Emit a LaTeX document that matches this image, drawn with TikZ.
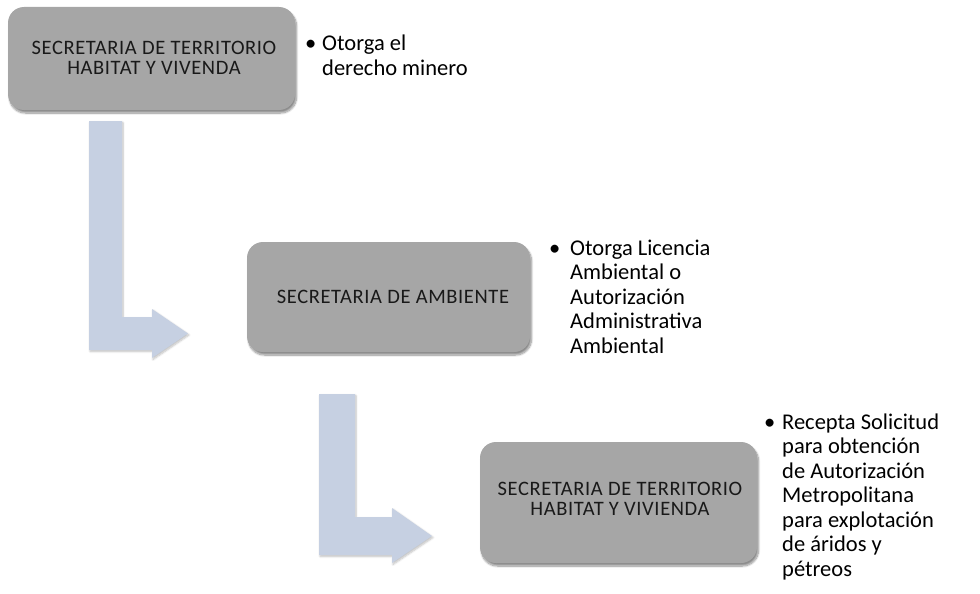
\documentclass[tikz,border=0pt]{standalone}
\usepackage{fontspec}
\setmainfont{Carlito}
\newfontfamily\boxfont[LetterSpace=3]{Carlito}
\usetikzlibrary{shadows.blur}
\definecolor{boxgray}{HTML}{A6A6A6}
\definecolor{arrowblue}{HTML}{C6D0E2}
\tikzset{
  orgbox/.style={draw=none, fill=boxgray, rounded corners=16pt,
    blur shadow={shadow blur steps=10, shadow xshift=1.5pt, shadow yshift=-3pt, shadow opacity=45}},
  boxtext/.style={inner sep=0pt, align=center, font=\boxfont\fontsize{20.5}{20}\selectfont, text=black!90},
  bullettext/.style={inner sep=0pt, anchor=base west, font=\fontsize{22.5}{24.5}\selectfont},
  bulletdot/.style={inner sep=0pt, anchor=base west, font=\fontsize{22.5}{24.5}\selectfont},
  bigarrow/.style={fill=arrowblue, draw=none,
    blur shadow={shadow blur steps=6, shadow xshift=1pt, shadow yshift=-1.5pt, shadow opacity=25}}
}
\begin{document}
\begin{tikzpicture}[x=1pt,y=-1pt]
\useasboundingbox (0,0) rectangle (980,594);

% arrows
\fill[bigarrow] (89,121) -- (122,121) -- (122,317) -- (152,317) -- (152,309) -- (188,333.5) -- (152,358) -- (152,350) -- (89,350) -- cycle;
\fill[bigarrow] (319,394) -- (355,394) -- (355,517) -- (392,517) -- (392,508) -- (432,536) -- (392,563) -- (392,555) -- (319,555) -- cycle;

% boxes
\path[orgbox] (8,7) rectangle (295,110);
\node[boxtext] (t1) at (154,58) {SECRETARIA DE TERRITORIO\\HABITAT Y VIVENDA};

\path[orgbox] (247,242) rectangle (530,352);
\node[boxtext] (t2) at (393,297) {SECRETARIA DE AMBIENTE};

\path[orgbox] (480,442) rectangle (757,563);
\node[boxtext] (t3) at (620,499) {SECRETARIA DE TERRITORIO\\HABITAT Y VIVIENDA};

% bullets
\node[bulletdot] (d1) at (305,51) {•};
\node[bullettext] (l1) at (322,51) {\parbox[t]{200pt}{\raggedright Otorga el\\derecho minero}};

\node[bulletdot] (d2) at (549,255) {•};
\node[bullettext] (l2) at (570,255) {\parbox[t]{200pt}{\raggedright Otorga Licencia\\Ambiental o\\Autorización\\Administrativa\\Ambiental}};

\node[bulletdot] (d3) at (764,429) {•};
\node[bullettext] (l3) at (782,429) {\parbox[t]{200pt}{\raggedright Recepta Solicitud\\para obtención\\de Autorización\\Metropolitana\\para explotación\\de áridos y\\pétreos}};
\end{tikzpicture}
\end{document}
